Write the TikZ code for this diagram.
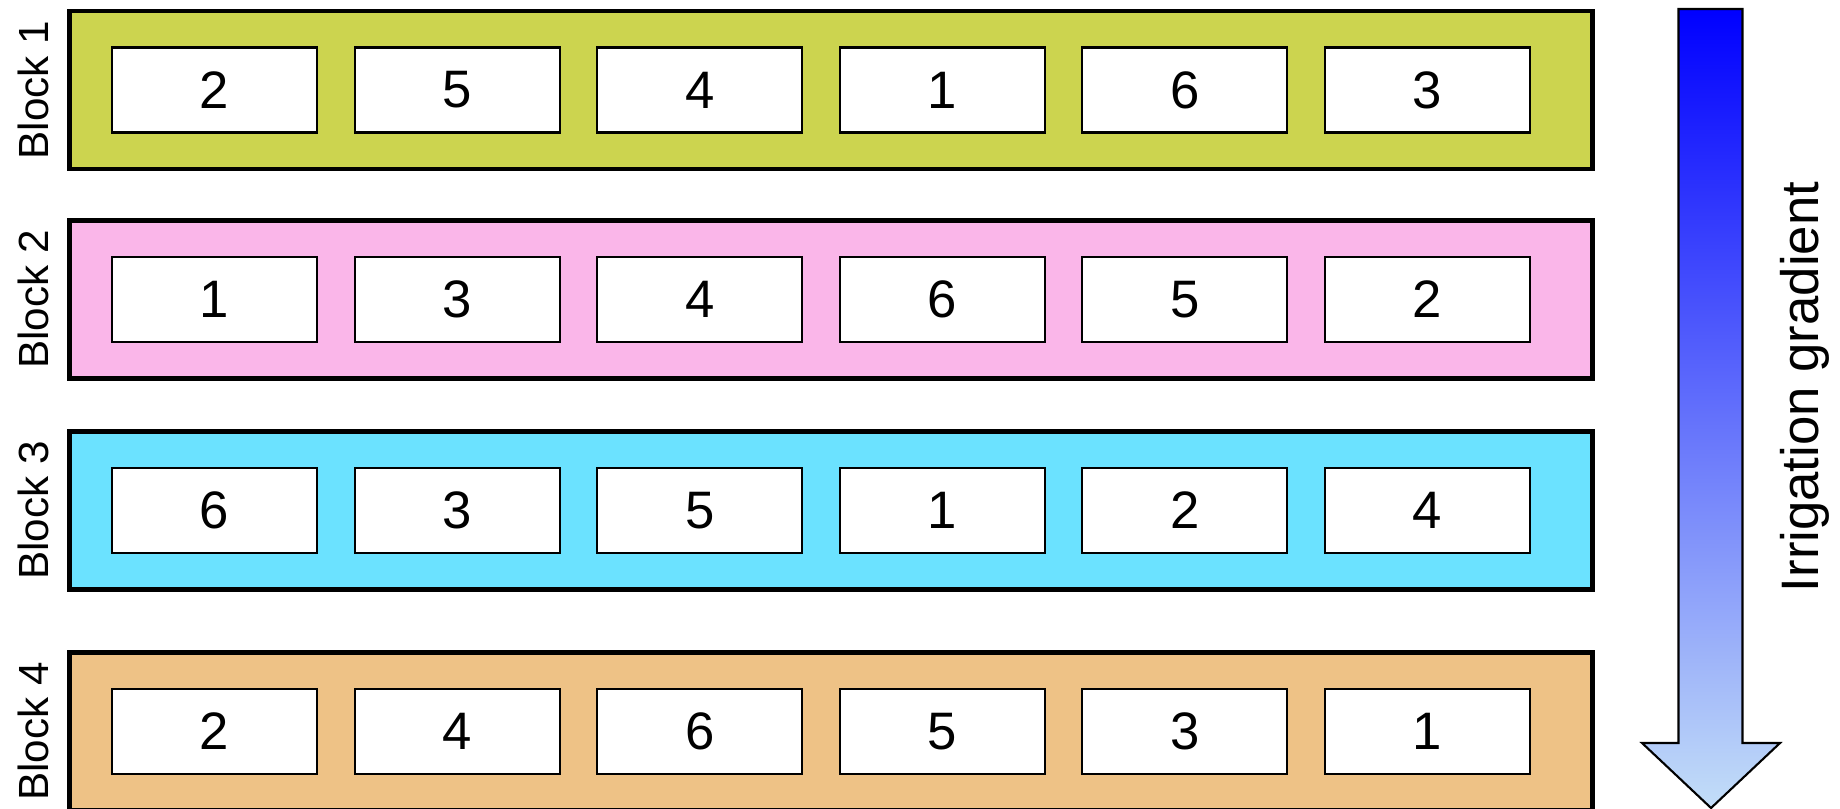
\documentclass[tikz,border=0pt]{standalone}
\usepackage{fontspec}
\setmainfont{Liberation Sans}
\definecolor{blockolive}{RGB}{204,212,79}
\definecolor{blockpink}{RGB}{250,182,233}
\definecolor{blockcyan}{RGB}{107,226,255}
\definecolor{blocktan}{RGB}{238,194,134}
\definecolor{gradtop}{RGB}{0,0,255}
\definecolor{gradmid}{RGB}{135,150,251}
\definecolor{gradbottom}{RGB}{195,222,248}
\tikzset{
  blockbox/.style={draw, line width=1.4pt, minimum width=15.23cm, minimum height=1.58cm, inner sep=0pt},
  plotbox/.style={draw, fill=white, line width=0.6pt, minimum width=2.05cm, minimum height=0.85cm, inner sep=0pt, font=\fontsize{15}{18}\selectfont},
  blocklabel/.style={rotate=90, inner sep=0pt, font=\fontsize{12}{14}\selectfont},
  gradlabel/.style={rotate=90, inner sep=0pt, font=\fontsize{15}{18}\selectfont}
}

\begin{document}
\begin{tikzpicture}
\useasboundingbox (0,0) rectangle (18.4,-8.09);
\foreach \b/\y/\col/\plots in {1/0.90/blockolive/{2,5,4,1,6,3},
                                2/2.995/blockpink/{1,3,4,6,5,2},
                                3/5.105/blockcyan/{6,3,5,1,2,4},
                                4/7.315/blocktan/{2,4,6,5,3,1}}{
  \node[blockbox, fill=\col] (block\b) at (8.31,-\y) {};
  \node[blocklabel] (blab\b) at (0.33,-\y) {Block \b};
  \foreach \p [count=\i] in \plots
    \node[plotbox] (plot\b\i) at ({2.145+(\i-1)*2.426},-\y) {\p};
}
% irrigation arrow
\draw[line width=0.6pt, top color=gradtop, middle color=gradmid, bottom color=gradbottom]
  (16.785,-0.09) -- (17.425,-0.09) -- (17.425,-7.43) -- (17.80,-7.43)
  -- (17.11,-8.08) -- (16.42,-7.43) -- (16.785,-7.43) -- cycle;
\node[gradlabel] (gradtext) at (18.05,-3.87) {Irrigation gradient};
\end{tikzpicture}
\end{document}
